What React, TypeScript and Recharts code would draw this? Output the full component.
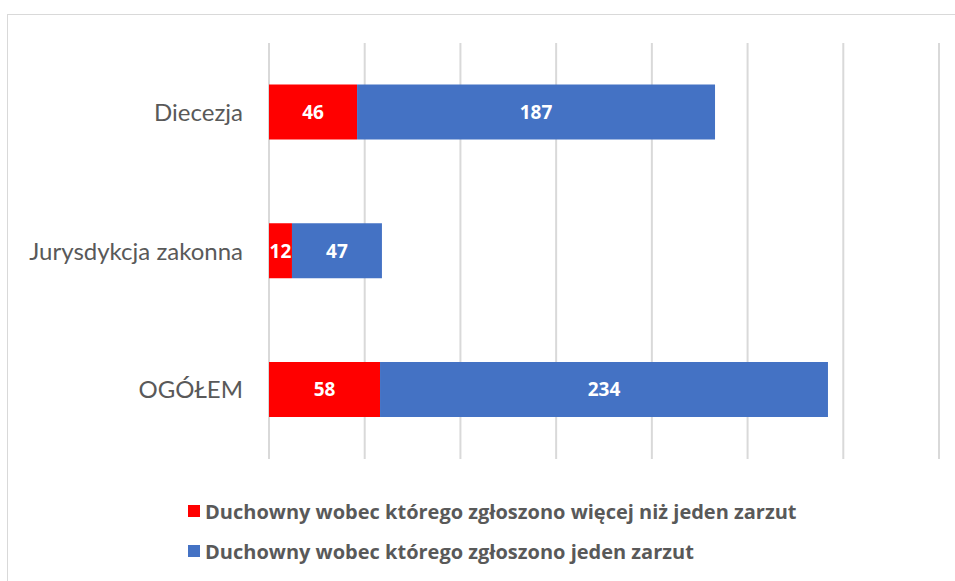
import React from "react";
import { BarChart, Bar, XAxis, YAxis, CartesianGrid, Legend, LabelList } from "recharts";

// Categories and series values
const categories = ["Diecezja", "Jurysdykcja zakonna", "OGÓŁEM"];
const multipleAllegations = [46, 12, 58];
const singleAllegation = [187, 47, 234];
const xTicks = [0, 50, 100, 150, 200, 250, 300, 350];

const SERIES = [
  { key: "multi", name: "Duchowny wobec którego zgłoszono więcej niż jeden zarzut", color: "#FF0000" },
  { key: "single", name: "Duchowny wobec którego zgłoszono jeden zarzut", color: "#4472C4" },
];

const data = categories.map((name, i) => ({
  name,
  multi: multipleAllegations[i],
  single: singleAllegation[i],
}));

const renderLegend = () => (
  <div style={{ fontFamily: "'Open Sans', sans-serif", fontWeight: 700, fontSize: 20, color: "#595959" }}>
    {SERIES.map((s) => (
      <div key={s.key} style={{ display: "flex", alignItems: "center", height: 40 }}>
        <span style={{ display: "inline-block", width: 12, height: 12, background: s.color, marginRight: 5 }} />
        <span>{s.name}</span>
      </div>
    ))}
  </div>
);

export default function App() {
  return (
    <div style={{ position: "fixed", left: 0, top: 0, width: 955, height: 581, overflow: "hidden", background: "#fff" }}>
      <div
        style={{
          position: "absolute",
          left: 7,
          top: 14,
          width: 1000,
          height: 700,
          border: "1.5px solid #d9d9d9",
        }}
      />
      <BarChart
        width={955}
        height={581}
        data={data}
        layout="vertical"
        margin={{ top: 43, right: 16, bottom: 42, left: 0 }}
        barCategoryGap="30%"
        style={{ position: "absolute", left: 0, top: 0 }}
      >
        <CartesianGrid horizontal={false} stroke="#d9d9d9" strokeWidth={2} />
        <XAxis type="number" domain={[0, 350]} ticks={xTicks} hide />
        <YAxis
          type="category"
          dataKey="name"
          width={269}
          axisLine={false}
          tickLine={false}
          tickSize={0}
          tickMargin={26}
          tick={{ fill: "#595959", fontSize: 24, fontFamily: "Lato, sans-serif" }}
        />
        <Legend
          content={renderLegend}
          wrapperStyle={{ position: "absolute", left: 188, top: 491, width: 750, height: 80 }}
        />
        {SERIES.map((s) => (
          <Bar key={s.key} dataKey={s.key} name={s.name} stackId="a" fill={s.color} isAnimationActive={false}>
            <LabelList
              dataKey={s.key}
              position="center"
              fill="#fff"
              style={{ fontWeight: 700, fontSize: 19, fontFamily: "'Open Sans', sans-serif" }}
            />
          </Bar>
        ))}
      </BarChart>
    </div>
  );
}
